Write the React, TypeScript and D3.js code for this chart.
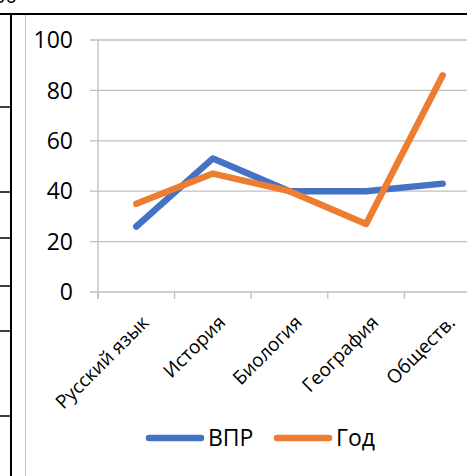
import React from "react";
import * as d3 from "d3";

const categories = ["Русский язык", "История", "Биология", "География", "Обществ."];
const vprValues = [26, 53, 40, 40, 43];
const godValues = [35, 47, 40, 27, 86];
const yTicks = [0, 20, 40, 60, 80, 100];
const seriesNames = ["ВПР", "Год"];
const seriesColors = ["#4472C4", "#ED7D31"];
const tableRows = [107, 192, 238, 286, 331, 416];

const W = 467;
const H = 476;
const FONT = "'Open Sans', 'Noto Sans', sans-serif";

export default function App() {
  const x = d3.scaleBand<string>().domain(categories).range([98, 98 + 76.6 * 5]);
  const y = d3.scaleLinear().domain([0, 100]).range([292, 40]);
  const line = d3
    .line<number>()
    .x((_, i) => (x(categories[i]) as number) + x.bandwidth() / 2)
    .y((d) => y(d));
  const series = [vprValues, godValues];

  return (
    <svg
      width={W}
      height={H}
      style={{ position: "absolute", left: 0, top: 0, background: "#fff" }}
      fontFamily={FONT}
    >
      <rect x={0} y={0} width={W} height={H} fill="#fff" />
      {/* table fragment */}
      <text x={-6} y={3} fontSize={20} fill="#000">00</text>
      <line x1={0} x2={W} y1={14} y2={14} stroke="#000" strokeWidth={2} />
      <line x1={11} x2={11} y1={14} y2={H} stroke="#000" strokeWidth={2} />
      {tableRows.map((r) => (
        <line key={r} x1={0} x2={11} y1={r} y2={r} stroke="#000" strokeWidth={1.5} />
      ))}
      <line x1={25.5} x2={25.5} y1={15} y2={H} stroke="#bfbfbf" strokeWidth={1} />

      {/* gridlines */}
      {yTicks.map((t) => (
        <line key={t} x1={90} x2={W} y1={y(t)} y2={y(t)} stroke="#bfbfbf" strokeWidth={1.3} />
      ))}
      <line x1={98} x2={98} y1={y(100)} y2={y(0) + 7} stroke="#bfbfbf" strokeWidth={1.3} />
      {categories.map((c) => (
        <line
          key={c}
          x1={x(c) as number}
          x2={x(c) as number}
          y1={y(0)}
          y2={y(0) + 7}
          stroke="#bfbfbf"
          strokeWidth={1.3}
        />
      ))}
      {yTicks.map((t) => (
        <text key={t} x={73} y={y(t)} dy="0.36em" textAnchor="end" fontSize={23} fill="#000">
          {t}
        </text>
      ))}
      {categories.map((c) => (
        <text
          key={c}
          transform={`translate(${(x(c) as number) + x.bandwidth() / 2 + 4},${y(0) + 22}) rotate(-45)`}
          textAnchor="end"
          dy="0.72em"
          fontSize={19}
          fill="#000"
        >
          {c}
        </text>
      ))}

      {series.map((s, i) => (
        <path
          key={i}
          d={line(s) || ""}
          fill="none"
          stroke={seriesColors[i]}
          strokeWidth={6.5}
          strokeLinecap="round"
          strokeLinejoin="round"
        />
      ))}

      {/* legend */}
      {seriesNames.map((n, i) => {
        const lx = i === 0 ? 149 : 277;
        return (
          <g key={n}>
            <line x1={lx} x2={lx + 52} y1={438} y2={438} stroke={seriesColors[i]} strokeWidth={6.5} strokeLinecap="round" />
            <text x={lx + 59} y={438} dy="0.36em" fontSize={23} fill="#000">{n}</text>
          </g>
        );
      })}
    </svg>
  );
}
